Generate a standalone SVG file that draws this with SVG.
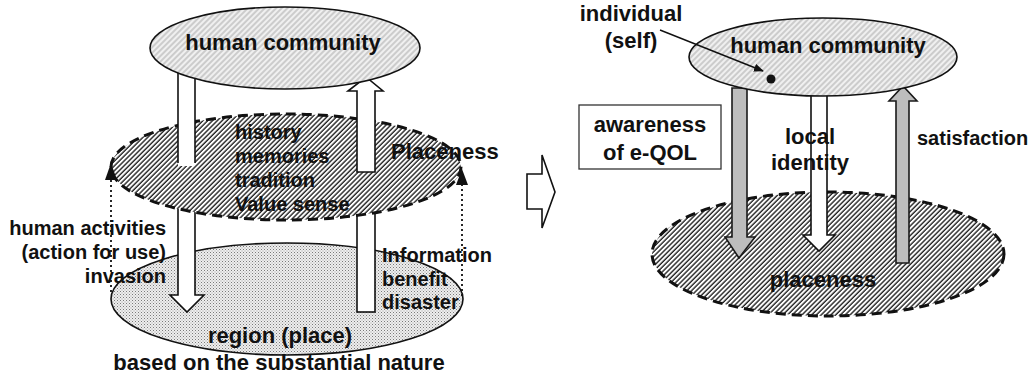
<svg xmlns="http://www.w3.org/2000/svg" width="1032" height="379" viewBox="0 0 1032 379">
<style>
text{font-family:"Liberation Sans",Arial,sans-serif;font-weight:bold;fill:#111}
.t20{font-size:20px}
.t22{font-size:22px}
.solid{stroke:#111;stroke-width:1.6}
.dash{stroke:#111;stroke-width:3;stroke-dasharray:10 6}
.white{fill:#fff;stroke:#111;stroke-width:1.6}
.gray{fill:#bdbdbd;stroke:#1a1a1a;stroke-width:1.6}
.dotline{fill:none;stroke:#111;stroke-width:1.8;stroke-dasharray:2 3}
</style>
<defs>
<pattern id="hatchLight" width="4" height="4" patternUnits="userSpaceOnUse" patternTransform="rotate(45)">
<rect width="4" height="4" fill="#f0f0f0"/>
<line x1="1" y1="0" x2="1" y2="4" stroke="#a8a8a8" stroke-width="1"/>
</pattern>
<pattern id="hatchDark" width="3.4" height="4" patternUnits="userSpaceOnUse" patternTransform="rotate(45)">
<rect width="3.4" height="4" fill="#fff"/>
<line x1="1" y1="0" x2="1" y2="4" stroke="#222" stroke-width="1.4"/>
</pattern>
<pattern id="dots" width="3" height="3" patternUnits="userSpaceOnUse">
<rect width="3" height="3" fill="#eeeeee"/>
<rect x="0" y="0" width="1" height="1" fill="#7a7a7a"/>
<rect x="1.5" y="1.5" width="1" height="1" fill="#a0a0a0"/>
</pattern>
<marker id="tri2" markerWidth="10" markerHeight="8" refX="9" refY="4" orient="auto" markerUnits="userSpaceOnUse">
<path d="M0,0 L10,4 L0,8 Z" fill="#111"/>
</marker>
</defs>

<!-- LEFT DIAGRAM -->
<g id="region">
<ellipse cx="287" cy="299" rx="176" ry="56" fill="url(#dots)" class="solid"/>
</g>

<g id="connectors">
<polygon class="white" points="178,200 195,200 195,295 204,295 187,312 170,295 178,295"/>
<rect class="white" x="357" y="200" width="18" height="112"/>
</g>

<g id="placeness-left">
<ellipse cx="286" cy="167" rx="175" ry="53" fill="url(#hatchDark)" class="dash"/>
</g>

<g id="connectors-upper">
<rect x="178" y="60" width="17" height="106" fill="#fff"/>
<line x1="178" y1="60" x2="178" y2="163" stroke="#111" stroke-width="1.6"/>
<line x1="195" y1="60" x2="195" y2="163" stroke="#111" stroke-width="1.6"/>
<polygon class="white" points="357,172 357,91 348,91 366,77 383,91 375,91 375,172"/>
</g>

<g id="community-left">
<ellipse cx="285" cy="48" rx="135" ry="41" fill="url(#hatchLight)" class="solid"/>
<text class="t22" x="283" y="50" text-anchor="middle">human community</text>
</g>

<g id="dotted-arrows">
<line class="dotline" x1="111" y1="292" x2="111" y2="174"/>
<polygon points="105,180 117,180 111,163" fill="#111"/>
<line class="dotline" x1="462" y1="296" x2="462" y2="180"/>
<polygon points="456,185 468,185 462,169" fill="#111"/>
</g>

<g id="labels-left">
<text class="t20" x="235" y="139">history</text>
<text class="t20" x="235" y="163">memories</text>
<text class="t20" x="235" y="187">tradition</text>
<text class="t20" x="235" y="211">Value sense</text>
<text class="t22" x="391" y="159">Placeness</text>
<text class="t20" x="166" y="235" text-anchor="end">human activities</text>
<text class="t20" x="166" y="259" text-anchor="end">(action for use)</text>
<text class="t20" x="166" y="283" text-anchor="end">invasion</text>
<text class="t20" x="382" y="262">Information</text>
<text class="t20" x="382" y="286">benefit</text>
<text class="t20" x="382" y="309">disaster</text>
<text class="t22" x="280" y="343" text-anchor="middle">region (place)</text>
<text class="t22" x="279" y="370" text-anchor="middle">based on the substantial nature</text>
</g>

<g id="transition">
<polygon points="527,174 542,174 542,155 555,192 542,228 542,209 527,209" fill="#fff" stroke="#111" stroke-width="1.6"/>
</g>

<!-- RIGHT DIAGRAM -->
<g id="placeness-right">
<ellipse cx="828" cy="254" rx="176" ry="62" fill="url(#hatchDark)" class="dash"/>
<text class="t22" x="823" y="287" text-anchor="middle">placeness</text>
</g>

<g id="connectors-right">
<polygon class="gray" points="732,88 747,88 747,237 755,237 739,258 725,237 732,237"/>
<polygon class="white" points="811,88 827,88 827,235 835,235 819,251 803,235 811,235"/>
<polygon class="gray" points="896,263 909,263 909,101 917,101 903,86 889,101 896,101"/>
</g>

<g id="community-right">
<ellipse cx="823" cy="57" rx="134" ry="39" fill="url(#hatchLight)" class="solid"/>
<text class="t22" x="828" y="53" text-anchor="middle">human community</text>
</g>

<g id="individual">
<circle cx="771" cy="79" r="4.5" fill="#111"/>
<line x1="660" y1="30" x2="763" y2="71" stroke="#111" stroke-width="1.4" marker-end="url(#tri2)"/>
<text class="t22" x="631" y="21" text-anchor="middle">individual</text>
<text class="t22" x="631" y="48" text-anchor="middle">(self)</text>
</g>

<g id="awareness">
<rect x="579" y="105" width="142" height="64" fill="#fff" stroke="#333" stroke-width="1.3"/>
<text class="t22" x="650" y="132" text-anchor="middle">awareness</text>
<text class="t22" x="650" y="160" text-anchor="middle">of e-QOL</text>
</g>

<g id="labels-right">
<text class="t22" x="810" y="144" text-anchor="middle">local</text>
<text class="t22" x="810" y="170" text-anchor="middle">identity</text>
<text class="t20" x="917" y="145">satisfaction</text>
</g>
</svg>
